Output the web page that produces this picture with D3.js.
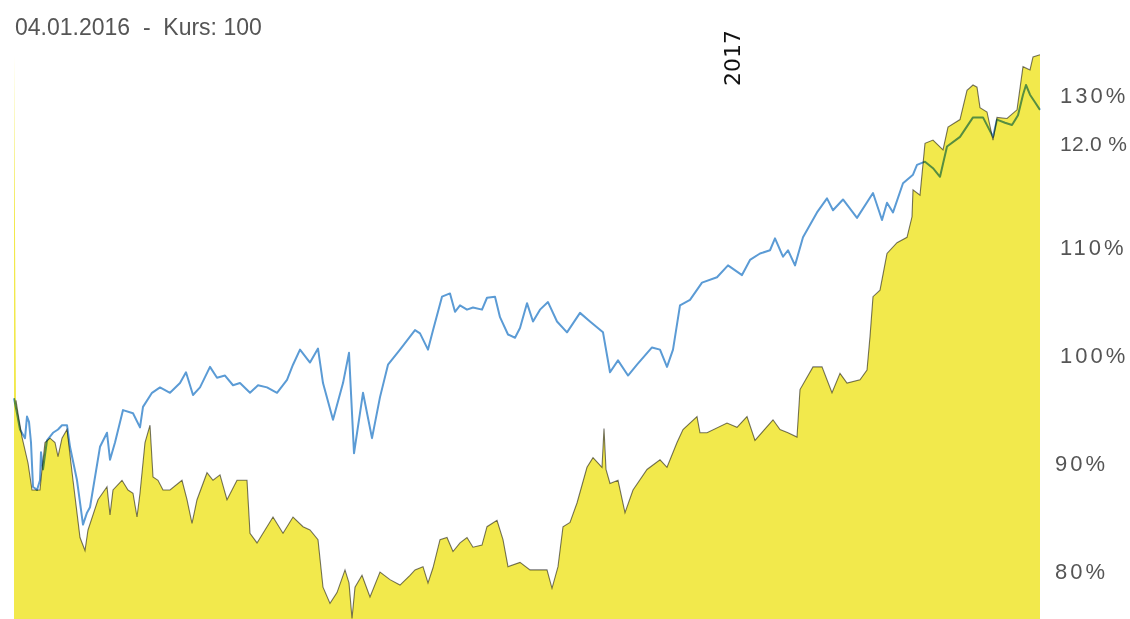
<!DOCTYPE html>
<html><head><meta charset="utf-8">
<script src="https://cdn.jsdelivr.net/npm/d3@7/dist/d3.min.js"></script>
<style>
html,body{margin:0;padding:0;background:#fff;}
svg{display:block;}
</style></head>
<body>
<svg id="chart" width="1130" height="619"></svg>
<script>
// ---- data (days since 04.01.2016, value in % of start) ----
const headerText = "04.01.2016  -  Kurs: 100";
const yearMarkDay = 363;
const yearLabel = "2017";

const blueDays = [0,1.5,3,5.5,6.5,7.5,8.5,9.5,11.5,13,13.5,14.5,16.5,19.5,22,24,26.5,28,31.5,34.5,36.5,38,43,46.5,48,50.5,54.5,59.5,63,64.5,69,73,78,83,86,89.5,93,98,101.5,105.5,109.5,113,118,122,126.5,131.5,136.5,139.5,143,148,152,154.5,159.5,164.5,167.5,170,174.5,179,183,187,193,200.5,203,207,209.5,214,218,220.5,223,226.5,229.5,234,236.5,240.5,243,247,250.5,253,256.5,259.5,263,267,271.5,276.5,283,288,294.5,298,302,307,311.5,319,323,326.5,329.5,333,338,344,351.5,357,364,368,373,378,380.5,384.5,387,390.5,394.5,401.5,406.5,409.5,414.5,421.5,429.5,434,436.5,439.5,444.5,449.5,451.5,455.5,459.5,463,466.5,473,479.5,484.5,489.5,491.5,495.5,499,502,504.5,506,508,510.5,513];
const blueValues = [96.0,94.6,93.1,92.3,94.3,93.8,91.9,87.8,87.5,88.4,91.0,89.4,92.1,92.8,93.1,93.5,93.5,91.5,88.4,84.3,85.4,85.9,91.5,92.8,90.3,91.9,94.9,94.6,93.3,95.2,96.5,97.0,96.5,97.4,98.4,96.3,97.0,98.9,97.9,98.1,97.2,97.4,96.5,97.2,97.0,96.5,97.7,99.1,100.5,99.3,100.6,97.4,94.0,97.4,100.2,90.9,96.5,92.3,96.1,99.1,100.5,102.3,102.0,100.5,102.3,105.4,105.7,104.0,104.6,104.2,104.4,104.2,105.3,105.4,103.5,101.9,101.6,102.5,104.8,103.1,104.2,104.9,103.1,102.1,103.9,103.1,102.1,98.4,99.5,98.1,99.1,100.7,100.5,98.9,100.5,104.6,105.1,106.7,107.2,108.3,107.4,108.8,109.4,109.7,110.8,109.1,109.7,108.3,110.9,113.2,114.5,113.4,114.4,112.7,115.0,112.5,114.1,113.2,115.9,116.7,117.6,117.9,117.3,116.5,119.3,120.2,122.0,122.0,120.2,121.8,121.5,121.3,122.2,124.1,125.0,124.1,123.4,122.7];

const yellowDays = [0,1,2,4,7,9,13,14,15.5,18,20.5,22,24,26.5,29.5,33,35.5,37,42,46.5,48,49.5,54,57,59.5,61.5,63,65.5,68,69.5,72,74.5,78,84,86.5,89,91.5,96.5,99.5,103,106.5,111.5,116.5,118,121.5,124.5,129.5,134.5,139.5,144.5,148,152,154.5,158,161.5,165.5,167.5,169,170.5,174,178,183,188,193,198,200.5,204.5,207,209.5,213,216.5,219.5,223,226.5,229.5,234,236.5,241.5,244.5,247,253,258,266.5,269,272,274.5,278,281.5,286.5,289.5,294,295,296,298,302,305.5,309.5,316.5,323,326.5,331.5,334.5,341.5,343,346.5,356.5,361.5,366.5,370.5,379.5,383,387,391.5,393,399.5,404,409,413,416.5,423,426.5,428,429.5,433,436.5,441.5,446.5,449,449.5,453,455.5,459.5,464.5,467,473,476.5,479.5,481.5,483,486.5,489.5,491.5,496.5,501.5,504.5,508,509.5,513];
const yellowValues = [127.7,95.8,94.6,92.4,90.0,87.5,87.5,89.4,91.9,92.3,91.9,90.6,92.3,93.1,88.4,83.1,81.9,83.8,86.6,87.8,85.2,87.5,88.4,87.5,87.2,85.0,87.2,91.9,93.5,88.7,88.4,87.5,87.5,88.4,86.6,84.4,86.6,89.1,88.4,88.9,86.6,88.4,88.4,83.5,82.6,83.5,85.0,83.5,85.0,84.1,83.8,82.9,78.5,77.0,78.0,80.1,78.9,75.6,78.5,79.6,77.6,79.9,79.2,78.7,79.6,80.1,80.4,78.9,80.3,82.9,83.1,81.8,82.6,83.1,82.2,82.4,84.1,84.7,82.9,80.4,80.8,80.1,80.1,78.4,80.4,84.1,84.5,86.3,89.6,90.5,89.6,93.2,89.4,88.1,88.4,85.4,87.5,89.4,90.3,89.6,91.9,93.1,94.3,92.8,92.8,93.7,93.3,94.3,92.1,94.0,93.1,92.8,92.4,96.8,98.9,98.9,96.5,98.3,97.4,97.7,98.6,101.7,105.4,106.0,109.4,110.4,110.9,112.8,115.3,114.8,119.6,119.9,119.0,121.1,121.8,124.5,125.0,124.8,122.9,122.5,119.9,122.0,121.9,122.7,126.7,126.4,127.6,127.8];

// right-hand labels as printed in the reference, at the heights where they appear
const tickValues = [124.0, 119.6, 110, 100, 90, 80];
const tickLabels = ["130%", "12.0 %", "110%", "100%", "90%", "80%"];

// ---- drawing ----
const W = 1130, H = 619;
const svg = d3.select("#chart");
const x = d3.scaleLinear().domain([0, 513]).range([14, 1040]);
const y = d3.scaleLinear().domain([80, 130]).range([571, 31]);

const yellow = yellowDays.map((d, i) => ({d, v: yellowValues[i]}));
const blue = blueDays.map((d, i) => ({d, v: blueValues[i]}));

svg.append("path")
  .datum(yellow)
  .attr("fill", "#f2e94c")
  .attr("d", d3.area().x(p => x(p.d)).y0(H).y1(p => y(p.v)));

svg.append("path")
  .datum(yellow.slice(1))
  .attr("fill", "none")
  .attr("stroke", "#555")
  .attr("stroke-width", 1.1)
  .attr("stroke-opacity", 0.8)
  .style("mix-blend-mode", "multiply")
  .attr("d", d3.line().x(p => x(p.d)).y(p => y(p.v)));

svg.append("path")
  .datum(blue)
  .attr("fill", "none")
  .attr("stroke", "#5b9bd5")
  .attr("stroke-width", 2)
  .attr("stroke-linejoin", "round")
  .style("mix-blend-mode", "multiply")
  .attr("d", d3.line().x(p => x(p.d)).y(p => y(p.v)));

// right axis
const axis = d3.axisRight(y)
  .tickValues(tickValues)
  .tickFormat((d, i) => tickLabels[i])
  .tickSize(0)
  .tickPadding(3);
const ag = svg.append("g").attr("transform", "translate(1052,0)").call(axis);
ag.select(".domain").remove();
ag.selectAll("text")
  .attr("font-family", "Liberation Sans, Arial, sans-serif")
  .attr("font-size", 22)
  .attr("letter-spacing", "3px")
  .attr("fill", "#555")
  .attr("x", d => d >= 100 ? 8 : 3);
ag.selectAll("text").filter((d, i) => i === 1)
  .attr("font-size", 21)
  .attr("letter-spacing", "0.3px");

// header
svg.append("text")
  .attr("x", 15).attr("y", 35)
  .attr("font-family", "Liberation Sans, Arial, sans-serif")
  .attr("font-size", 23)
  .attr("fill", "#555")
  .attr("xml:space", "preserve")
  .style("white-space", "pre")
  .text(headerText);

// year marker
svg.append("text")
  .attr("transform", `translate(${x(yearMarkDay)},58) rotate(-90)`)
  .attr("text-anchor", "middle")
  .attr("font-family", "DejaVu Sans, sans-serif")
  .attr("font-size", 22)
  .attr("fill", "#111")
  .text(yearLabel);
</script>
</body></html>
